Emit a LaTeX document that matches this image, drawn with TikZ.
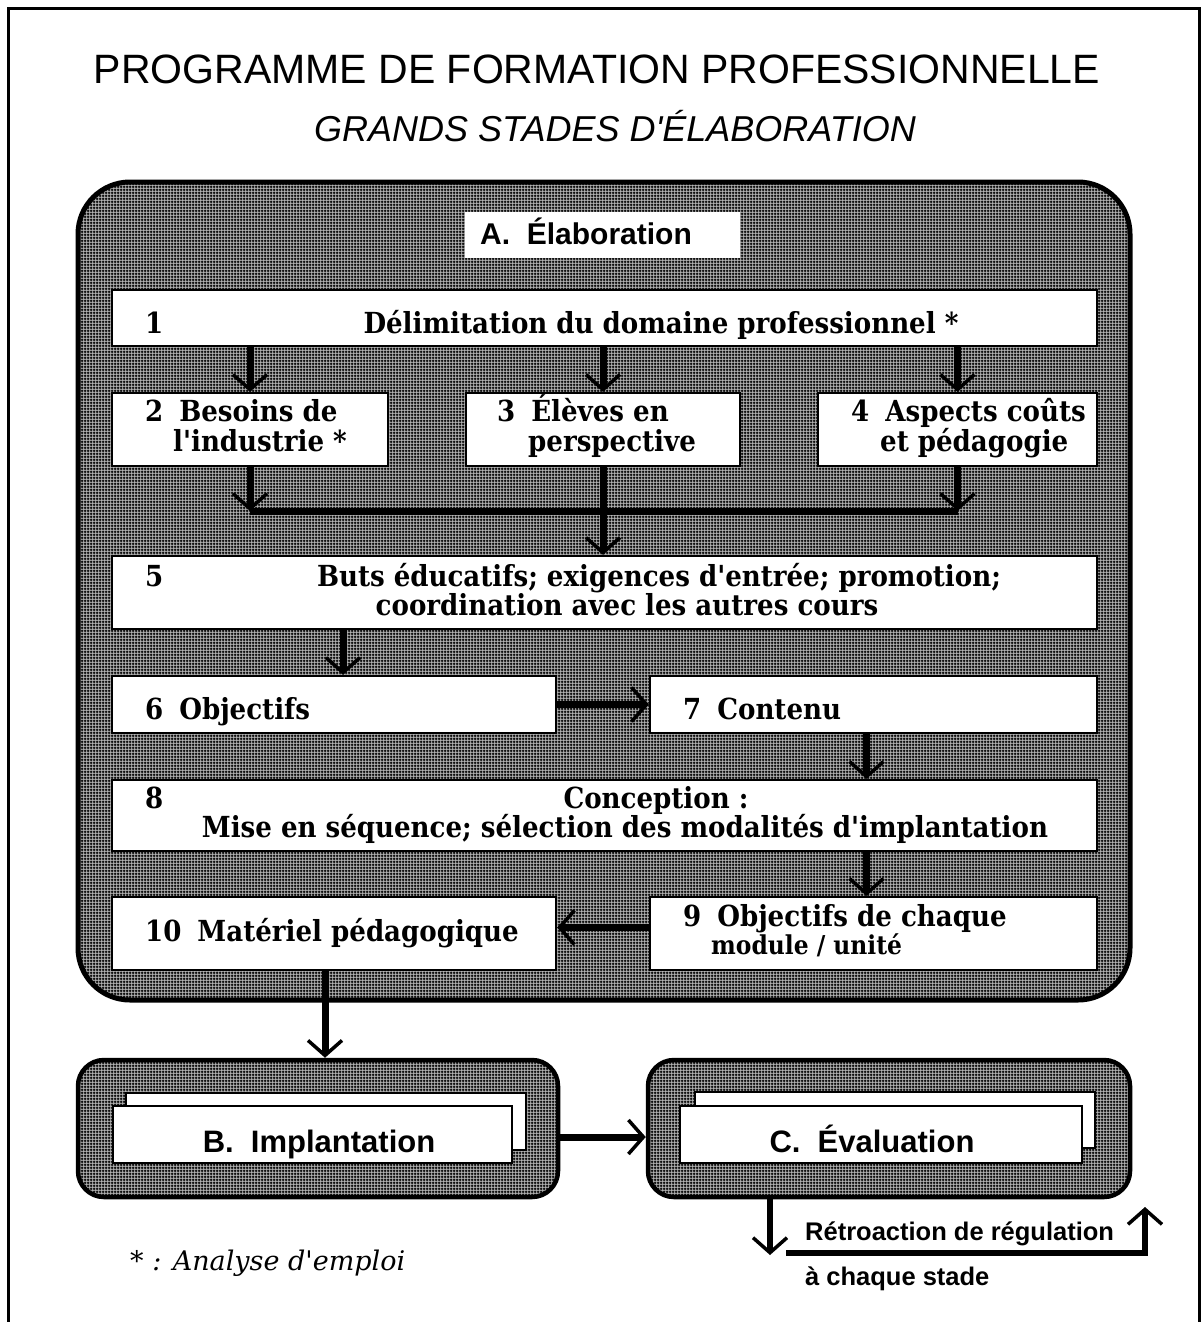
\documentclass[tikz,border=0pt]{standalone}
\usepackage{fontspec}
\setmainfont{DejaVu Serif}
% families declared with \newfontfamily keep the straight apostrophe
\newfontfamily\stagefont{DejaVu Serif Condensed}
\newfontfamily\notefont{DejaVu Serif}
\newfontfamily\headfont{Liberation Sans}
\usetikzlibrary{arrows.meta,fit,patterns.meta}

% fine halftone screen used inside the stage panels
\tikzdeclarepattern{
  name=screen,
  type=uncolored,
  tile size={(3pt,3pt)},
  parameters={},
  bounding box={(0pt,0pt) and (3pt,3pt)},
  code={
    \pgfsetlinewidth{1.6pt}
    \pgfpathmoveto{\pgfpoint{0pt}{1.5pt}}\pgfpathlineto{\pgfpoint{3pt}{1.5pt}}
    \pgfpathmoveto{\pgfpoint{1.5pt}{0pt}}\pgfpathlineto{\pgfpoint{1.5pt}{3pt}}
    \pgfusepath{stroke}
  }
}

\tikzset{
  panel/.style={draw=black, line width=5pt, preaction={fill=black!30}, pattern=screen, pattern color=black, inner sep=0pt},
  stage/.style={draw=black, line width=2.2pt, fill=white, inner sep=0pt},
  vhead/.tip={Straight Barb[length=15pt,width=34pt,line width=3.5pt 0]},
  flow/.style={line width=7pt, line cap=butt, -vhead},
  txt/.style={font=\stagefont\bfseries\fontsize{29}{33}\selectfont, inner sep=0pt, anchor=base west},
  ctxt/.style={txt, anchor=base},
  head/.style={font=\headfont\bfseries\fontsize{31}{36}\selectfont, inner sep=0pt, anchor=base},
  loopnote/.style={font=\headfont\bfseries\fontsize{25.5}{30}\selectfont, inner sep=0pt, anchor=base west},
}

\begin{document}
\begin{tikzpicture}[x=1pt,y=-1pt]
\useasboundingbox (0,0) rectangle (1201,1322);
\fill[white] (0,0) rectangle (1201,1322);

% page frame
\draw[line width=3pt] (8,1340) -- (8,9) -- (1199.5,9) -- (1199.5,1340);

% titles
\node[font=\headfont\fontsize{41}{50}\selectfont, inner sep=0pt, anchor=base] (title) at (597,83)
  {PROGRAMME DE FORMATION PROFESSIONNELLE};
\node[font=\headfont\itshape\fontsize{36}{42}\selectfont, inner sep=0pt, anchor=base] (subtitle) at (615,141)
  {GRANDS STADES D'ÉLABORATION};

% stage panels
\node[panel, rounded corners=52pt, fit={(78,182) (1130,1000)}] (A) {};
\node[panel, rounded corners=26pt, line width=4.5pt, fit={(78,1060) (558,1197)}] (B) {};
\node[panel, rounded corners=26pt, line width=4.5pt, fit={(648,1060) (1130,1197)}] (C) {};

% panel A heading
\node[fill=white, inner sep=0pt, fit={(465,212) (740,258)}] (Alab) {};
\node[head, anchor=base west, font=\headfont\bfseries\fontsize{30}{34}\selectfont] (Atxt) at (480,244) {A.\ \ Élaboration};

% steps of the elaboration
\node[stage, fit={(112,290) (1097,346)}] (b1) {};
\node[stage, fit={(112,393) (388,466)}] (b2) {};
\node[stage, fit={(466,393) (740,466)}] (b3) {};
\node[stage, fit={(818,393) (1097,466)}] (b4) {};
\node[stage, fit={(112,556) (1097,629)}] (b5) {};
\node[stage, fit={(112,676) (556,733)}] (b6) {};
\node[stage, fit={(650,676) (1097,733)}] (b7) {};
\node[stage, fit={(112,780) (1097,851)}] (b8) {};
\node[stage, fit={(650,897) (1097,970)}] (b9) {};
\node[stage, fit={(112,897) (556,970)}] (b10) {};

\node[txt] (n1) at (145,333) {1};
\node[ctxt] (t1) at (661,333) {Délimitation du domaine professionnel *};

\node[txt] (t2a) at (145,421) {2\hspace{16pt}Besoins de};
\node[txt] (t2b) at (173,451) {l'industrie *};
\node[txt] (t3a) at (497,421) {3\hspace{16pt}Élèves en};
\node[txt] (t3b) at (528,451) {perspective};
\node[txt] (t4a) at (851,421) {4\hspace{16pt}Aspects coûts};
\node[txt] (t4b) at (880,451) {et pédagogie};

\node[txt] (n5) at (145,586) {5};
\node[ctxt] (t5a) at (659,586) {Buts éducatifs; exigences d'entrée; promotion;};
\node[ctxt] (t5b) at (627,615) {coordination avec les autres cours};

\node[txt] (t6) at (145,719) {6\hspace{16pt}Objectifs};
\node[txt] (t7) at (683,719) {7\hspace{16pt}Contenu};

\node[txt] (n8) at (145,808) {8};
\node[ctxt] (t8a) at (656,808) {Conception :};
\node[ctxt] (t8b) at (625,837) {Mise en séquence; sélection des modalités d'implantation};

\node[txt] (t9a) at (683,926) {9\hspace{16pt}Objectifs de chaque};
\node[txt, font=\stagefont\bfseries\fontsize{26}{30}\selectfont] (t9b) at (711,954) {module / unité};
\node[txt] (t10) at (145,941) {10\hspace{16pt}Matériel pédagogique};

% flow between steps
\draw[flow] (b1.south -| b2.north) -- (b2.north);
\draw[flow] (b1.south -| b3.north) -- (b3.north);
\draw[flow] (b1.south -| b4.north) -- (b4.north);

\coordinate (barL) at (b2.south |- 0,511);
\coordinate (barR) at (b4.south |- 0,511);
\draw[line width=7pt] (barL) -- (barR);
\draw[flow] (b2.south) -- (barL);
\draw[flow] (b4.south) -- (barR);
\draw[flow] (b3.south) -- (b3.south |- b5.north);

\draw[flow] ([xshift=9pt]b5.south -| b6.north) -- ([xshift=9pt]b6.north);
\draw[flow] (b6.east) -- (b7.west);
\draw[flow] ([xshift=-7pt]b7.south) -- ([xshift=-7pt]b7.south |- b8.north);
\draw[flow] ([xshift=-7pt]b8.south -| b9.north) -- ([xshift=-7pt]b9.north);
\draw[flow] ([yshift=6pt]b9.west) -- ([yshift=6pt]b10.east);
\draw[flow] ([xshift=-9pt]b10.south) -- ([xshift=-9pt]b10.south |- B.north);

% implantation and evaluation
\node[stage, fit={(126,1093) (526,1150)}] (Bback) {};
\node[stage, fit={(113,1106) (512,1163)}] (Bfront) {};
\node[head] (Btxt) at (319,1152) {B.\ \ Implantation};
\node[stage, fit={(695,1092) (1095,1148)}] (Cback) {};
\node[stage, fit={(680,1106) (1082,1163)}] (Cfront) {};
\node[head] (Ctxt) at (872,1152) {C.\ \ Évaluation};

\draw[flow] (B.east |- 0,1137) -- (C.west |- 0,1137);

% feedback loop
\coordinate (fbdown) at (770,1255);
\coordinate (fbL) at (786,1253);
\coordinate (fbR) at (1145,1253);
\coordinate (fbup) at (1145,1207);
\draw[flow, line width=6pt] (C.south -| fbdown) -- (fbdown);
\draw[flow, line width=6pt, line join=miter] (fbL) -- (fbR) -- (fbup);
\node[loopnote] (fb1) at (805,1240) {Rétroaction de régulation};
\node[loopnote] (fb2) at (805,1285) {à chaque stade};

% footnote
\node[font=\notefont\itshape\fontsize{27}{32}\selectfont, inner sep=0pt, anchor=base west] (note) at (130,1270) {* : Analyse d'emploi};
\end{tikzpicture}
\end{document}
